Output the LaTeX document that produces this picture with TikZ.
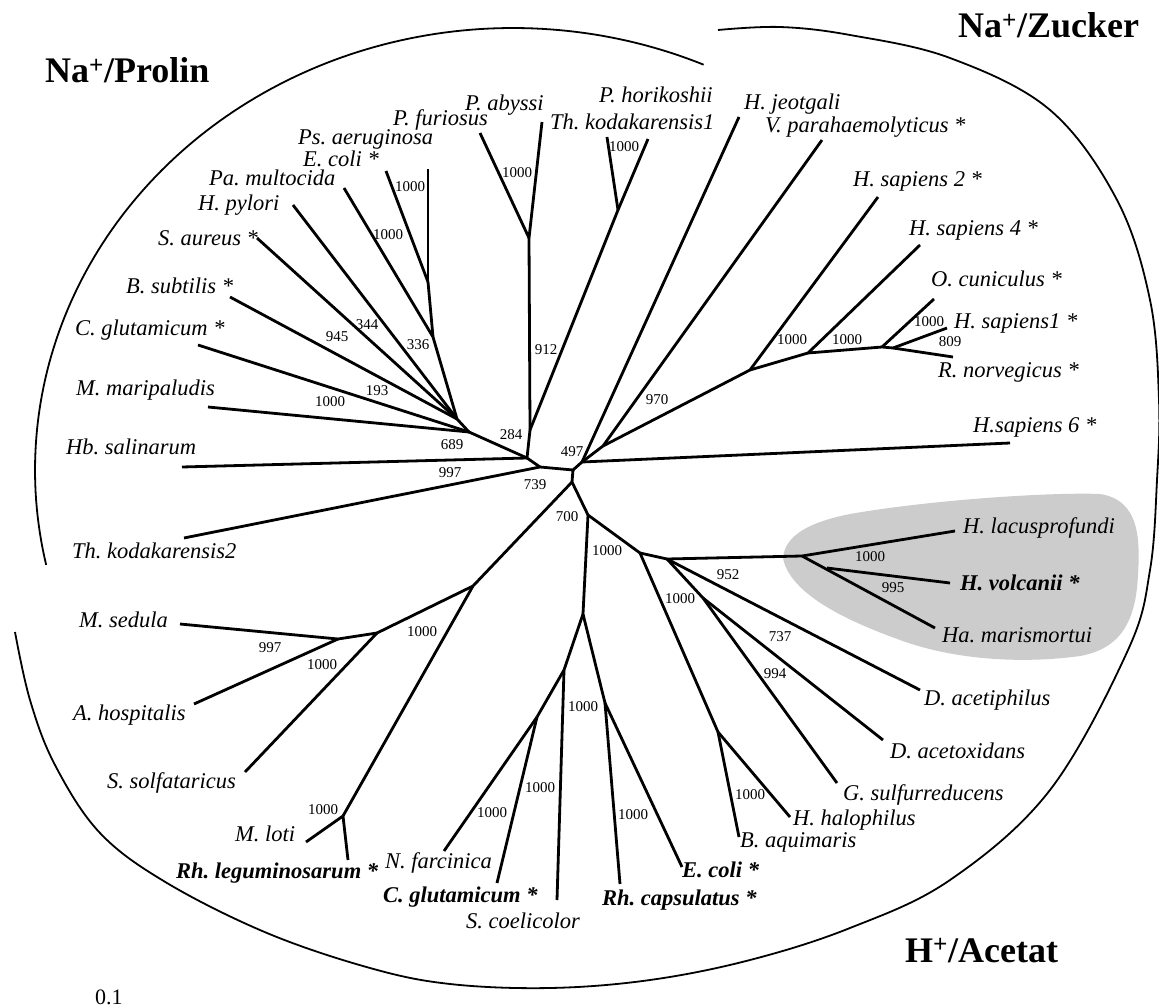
\documentclass[tikz,border=0pt]{standalone}
\usepackage{fontspec}
\setmainfont{Liberation Serif}
\definecolor{blobc}{RGB}{204,204,204}
\begin{document}
\frenchspacing
\begin{tikzpicture}[x=1pt,y=-1pt,
  br/.style={line width=2.8pt, line join=round},
  arcline/.style={line width=1.8pt},
  sp/.style={font=\fontsize{22.5}{27}\selectfont\itshape, anchor=base west, inner sep=0pt},
  spb/.style={font=\fontsize{22.5}{27}\selectfont\bfseries\itshape, anchor=base west, inner sep=0pt},
  bs/.style={font=\fontsize{15}{18}\selectfont, inner sep=0pt},
  ttl/.style={font=\fontsize{36}{40}\selectfont\bfseries, anchor=base west, inner sep=0pt}]
\useasboundingbox (0,0) rectangle (1159,1008);
\fill[white] (0,0) rectangle (1159,1008);

% shaded group
\fill[blobc] (783,558) .. controls (785,535) and (810,522) .. (850,514)
  .. controls (930,500) and (1050,492) .. (1100,494)
  .. controls (1140,500) and (1140,540) .. (1138,575)
  .. controls (1136,615) and (1125,648) .. (1080,656)
  .. controls (1030,663) and (960,662) .. (900,640)
  .. controls (850,622) and (790,595) .. (783,558) -- cycle;

% group arcs
\draw[arcline] plot[domain=66.5:192.4, samples=120] ({513+478*cos(\x)}, {470-442*sin(\x)});
\draw[arcline] plot[smooth, tension=0.6] coordinates {(718,30) (780,27) (850,35) (950,58) (1050,110) (1117,200) (1150,300) (1159,400) (1157,480) (1150,570) (1128,650) (1050,790) (950,880) (850,928) (750,960) (650,980) (550,988) (450,984) (370,968) (267,933) (167,883) (100,833) (55,765) (30,700) (15,632)};

% internal nodes
\coordinate (A) at (527,458); \coordinate (B) at (540,467); \coordinate (C) at (573,470);
\coordinate (D) at (582,462); \coordinate (E) at (572,482);
\coordinate (K) at (469,432); \coordinate (P) at (457,419); \coordinate (O) at (433,337);
\coordinate (N) at (428,282); \coordinate (Q) at (530,430); \coordinate (R) at (529,238);
\coordinate (S) at (618,210);
\coordinate (F) at (603,446); \coordinate (G) at (750,370); \coordinate (H) at (808,353);
\coordinate (I) at (882,347); \coordinate (J) at (893,348);
\coordinate (T) at (588,515); \coordinate (U) at (583,614); \coordinate (V) at (640,553);
\coordinate (W) at (667,559); \coordinate (X) at (802,556); \coordinate (X2) at (827,568);
\coordinate (Y) at (703,598); \coordinate (Z) at (718,732); \coordinate (EE) at (564,670);
\coordinate (FF) at (605,703); \coordinate (GG) at (537,717); \coordinate (AA) at (473,586);
\coordinate (BB) at (377,633); \coordinate (DD) at (338,639); \coordinate (CC) at (343,816);

% tips
\coordinate (tHb) at (182,467); \coordinate (tTkB) at (184,538); \coordinate (tMm) at (208,407);
\coordinate (tCg) at (198,345); \coordinate (tBs) at (230,297); \coordinate (tSa) at (257,238);
\coordinate (tHp) at (293,205); \coordinate (tPa) at (344,188); \coordinate (tEc) at (386,171);
\coordinate (tPs) at (428,169); \coordinate (tPf) at (480,133); \coordinate (tPab) at (542,122);
\coordinate (tPh) at (607,137); \coordinate (tTkA) at (648,139);
\coordinate (tHj) at (739,117); \coordinate (tVp) at (822,140); \coordinate (tHsB) at (878,197);
\coordinate (tHsD) at (920,245); \coordinate (tOc) at (934,299); \coordinate (tHsA) at (947,328);
\coordinate (tRn) at (953,357); \coordinate (tHsF) at (1010,443);
\coordinate (tHl) at (955,531); \coordinate (tHv) at (950,583); \coordinate (tHm) at (935,628);
\coordinate (tDa) at (920,690); \coordinate (tDx) at (883,740); \coordinate (tGs) at (837,783);
\coordinate (tHh) at (790,817); \coordinate (tBa) at (739,837); \coordinate (tEcB) at (682,867);
\coordinate (tRc) at (620,884); \coordinate (tSc) at (557,900); \coordinate (tCgB) at (497,883);
\coordinate (tNf) at (444,851); \coordinate (tRl) at (348,860); \coordinate (tMl) at (306,842);
\coordinate (tSs) at (245,772); \coordinate (tAh) at (194,704); \coordinate (tMs) at (180,624);

% branches: Na+/Prolin
\draw[br] (tHb) -- (A); \draw[br] (A) -- (B); \draw[br] (B) -- (tTkB); \draw[br] (B) -- (C);
\draw[br] (C) -- (D); \draw[br] (C) -- (E);
\draw[br] (A) -- (K); \draw[br] (K) -- (tMm); \draw[br] (K) -- (P); \draw[br] (tCg) -- (K);
\draw[br] (P) -- (tBs); \draw[br] (P) -- (tSa); \draw[br] (P) -- (tHp); \draw[br] (P) -- (O);
\draw[br] (O) -- (tPa); \draw[br] (O) -- (N); \draw[br] (N) -- (tEc); \draw[br] (N) -- (tPs);
\draw[br] (A) -- (Q); \draw[br] (Q) -- (R); \draw[br] (R) -- (tPf); \draw[br] (R) -- (tPab);
\draw[br] (Q) -- (S); \draw[br] (S) -- (tPh); \draw[br] (S) -- (tTkA);
% Na+/Zucker
\draw[br] (D) -- (tHj); \draw[br] (D) -- (F); \draw[br] (F) -- (tVp); \draw[br] (F) -- (G);
\draw[br] (G) -- (tHsB); \draw[br] (G) -- (H); \draw[br] (H) -- (tHsD); \draw[br] (H) -- (I);
\draw[br] (I) -- (tOc); \draw[br] (I) -- (J); \draw[br] (J) -- (tHsA); \draw[br] (J) -- (tRn);
\draw[br] (D) -- (tHsF);
% H+/Acetat
\draw[br] (E) -- (T); \draw[br] (T) -- (U); \draw[br] (T) -- (V); \draw[br] (V) -- (W);
\draw[br] (W) -- (X); \draw[br] (X) -- (tHl); \draw[br] (X) -- (tHm); \draw[br] (X2) -- (tHv);
\draw[br] (W) -- (tDa); \draw[br] (W) -- (Y); \draw[br] (Y) -- (tDx); \draw[br] (Y) -- (tGs);
\draw[br] (V) -- (Z); \draw[br] (Z) -- (tHh); \draw[br] (Z) -- (tBa);
\draw[br] (U) -- (EE); \draw[br] (EE) -- (tSc); \draw[br] (EE) -- (GG);
\draw[br] (GG) -- (tNf); \draw[br] (GG) -- (tCgB);
\draw[br] (U) -- (FF); \draw[br] (FF) -- (tRc); \draw[br] (FF) -- (tEcB);
\draw[br] (E) -- (AA); \draw[br] (AA) -- (BB); \draw[br] (BB) -- (DD);
\draw[br] (DD) -- (tMs); \draw[br] (DD) -- (tAh); \draw[br] (BB) -- (tSs);
\draw[br] (AA) -- (CC); \draw[br] (CC) -- (tMl); \draw[br] (CC) -- (tRl);

% group titles
\node[ttl] (tProlin) at (45,83) {Na\textsuperscript{+}/Prolin};
\node[ttl] (tZucker) at (958,38) {Na\textsuperscript{+}/Zucker};
\node[ttl] (tAcetat) at (905,962) {H\textsuperscript{+}/Acetat};
\node[anchor=base west, inner sep=0pt, font=\fontsize{22}{26}\selectfont] (scale) at (95,1004) {0.1};

% species labels
\node[sp] (lPs) at (298,145) {Ps. aeruginosa};
\node[sp] (lEc) at (303,167) {E. coli *};
\node[sp] (lPa) at (209,186) {Pa. multocida};
\node[sp] (lHp) at (198,211) {H. pylori};
\node[sp] (lSa) at (158,246) {S. aureus *};
\node[sp] (lBs) at (126,294) {B. subtilis *};
\node[sp] (lCg) at (75,335) {C. glutamicum *};
\node[sp] (lMm) at (76,395) {M. maripaludis};
\node[sp] (lHb) at (66,454) {Hb. salinarum};
\node[sp] (lTkB) at (72,558) {Th. kodakarensis2};
\node[sp] (lMs) at (79,627) {M. sedula};
\node[sp] (lAh) at (73,720) {A. hospitalis};
\node[sp] (lSs) at (107,788) {S. solfataricus};
\node[sp] (lMl) at (235,841) {M. loti};
\node[spb] (lRl) at (176,878) {Rh. leguminosarum *};
\node[sp] (lNf) at (385,868) {N. farcinica};
\node[spb] (lCgB) at (383,902) {C. glutamicum *};
\node[sp] (lSc) at (466,928) {S. coelicolor};
\node[spb] (lRc) at (602,905) {Rh. capsulatus *};
\node[spb] (lEcB) at (682,877) {E. coli *};
\node[sp] (lBa) at (740,847) {B. aquimaris};
\node[sp] (lHh) at (793,825) {H. halophilus};
\node[sp] (lGs) at (843,800) {G. sulfurreducens};
\node[sp] (lDx) at (890,758) {D. acetoxidans};
\node[sp] (lDa) at (924,705) {D. acetiphilus};
\node[sp] (lHm) at (942,642) {Ha. marismortui};
\node[spb] (lHv) at (960,590) {H. volcanii *};
\node[sp] (lHl) at (963,533) {H. lacusprofundi};
\node[sp] (lHsF) at (973,432) {H.sapiens 6 *};
\node[sp] (lRn) at (938,377) {R. norvegicus *};
\node[sp] (lHsA) at (954,328) {H. sapiens1 *};
\node[sp] (lOc) at (931,287) {O. cuniculus *};
\node[sp] (lHsD) at (909,236) {H. sapiens 4 *};
\node[sp] (lHsB) at (853,187) {H. sapiens 2 *};
\node[sp] (lVp) at (765,133) {V. parahaemolyticus *};
\node[sp] (lHj) at (744,110) {H. jeotgali};
\node[sp] (lPh) at (599,103) {P. horikoshii};
\node[sp] (lTkA) at (550,130) {Th. kodakarensis1};
\node[sp] (lPab) at (465,111) {P. abyssi};
\node[sp] (lPf) at (393,126) {P. furiosus};

% bootstrap values
\node[bs] (b1) at (452,445) {689};
\node[bs] (b2) at (511,435) {284};
\node[bs] (b3) at (572,452) {497};
\node[bs] (b4) at (450,473) {997};
\node[bs] (b5) at (535,485) {739};
\node[bs] (b6) at (567,517) {700};
\node[bs] (b7) at (546,350) {912};
\node[bs] (b8) at (517,173) {1000};
\node[bs] (b9) at (624,147) {1000};
\node[bs] (b10) at (410,187) {1000};
\node[bs] (b11) at (388,235) {1000};
\node[bs] (b12) at (418,345) {336};
\node[bs] (b13) at (367,325) {344};
\node[bs] (b14) at (337,337) {945};
\node[bs] (b15) at (377,391) {193};
\node[bs] (b16) at (330,402) {1000};
\node[bs] (b17) at (657,400) {970};
\node[bs] (b18) at (792,340) {1000};
\node[bs] (b19) at (847,340) {1000};
\node[bs] (b20) at (929,322) {1000};
\node[bs] (b21) at (950,342) {809};
\node[bs] (b22) at (607,551) {1000};
\node[bs] (b23) at (728,575) {952};
\node[bs] (b24) at (680,599) {1000};
\node[bs] (b25) at (780,637) {737};
\node[bs] (b26) at (775,674) {994};
\node[bs] (b27) at (870,557) {1000};
\node[bs] (b28) at (893,588) {995};
\node[bs] (b29) at (750,795) {1000};
\node[bs] (b30) at (633,815) {1000};
\node[bs] (b31) at (583,707) {1000};
\node[bs] (b32) at (540,788) {1000};
\node[bs] (b33) at (492,813) {1000};
\node[bs] (b34) at (422,632) {1000};
\node[bs] (b35) at (322,665) {1000};
\node[bs] (b36) at (270,648) {997};
\node[bs] (b37) at (323,810) {1000};
\end{tikzpicture}
\end{document}
